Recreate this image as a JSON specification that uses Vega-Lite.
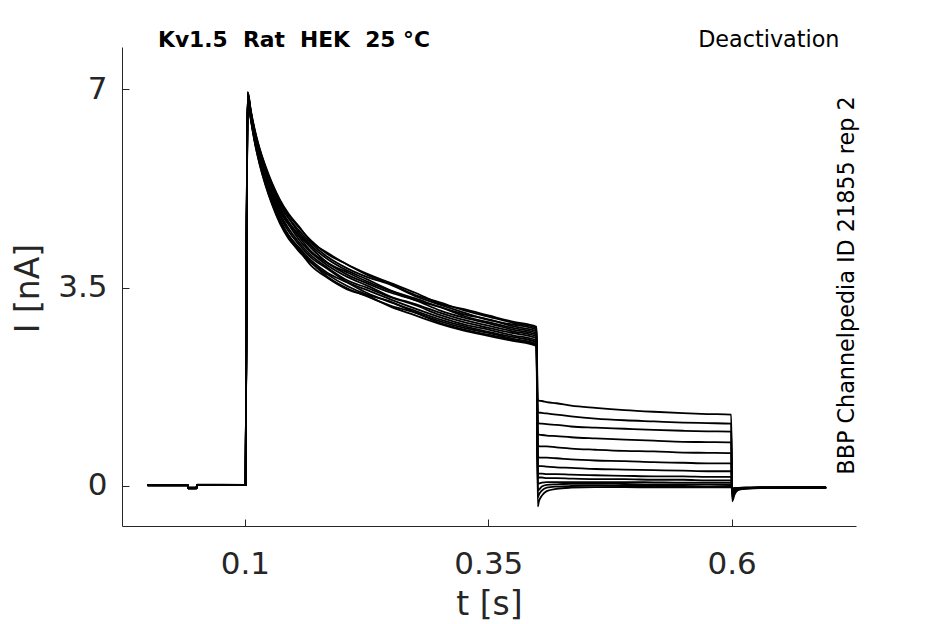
{
"$schema":"https://vega.github.io/schema/vega-lite/v6.json",
"width":734,"height":479,
"autosize":{"type":"none"},
"padding":{"left":122,"top":47,"right":89,"bottom":98},
"background":"white",
"config":{"view":{"stroke":null},"font":"DejaVu Sans","axis":{"grid":false,"domainColor":"#262626","tickColor":"#262626","labelColor":"#262626","titleColor":"#262626","labelFont":"DejaVu Sans","titleFont":"DejaVu Sans","titleFontWeight":"normal","domainWidth":1,"tickWidth":1}},
"title":{"text":"Kv1.5 \u00a0Rat \u00a0HEK \u00a025 °C","anchor":"start","frame":"group","dx":36,"dy":41,"offset":0,"baseline":"alphabetic","fontSize":21.8,"fontWeight":"bold","font":"DejaVu Sans","color":"black"},
"layer":[
{"data":{"values":[
{"s":1,"t":0,"i":0.015},{"s":1,"t":0.0412,"i":0.015},{"s":1,"t":0.0416,"i":-0.035},{"s":1,"t":0.0503,"i":-0.035},{"s":1,"t":0.0508,"i":0.02},{"s":1,"t":0.1007,"i":0.02},{"s":1,"t":0.1018,"i":4.6},
{"s":1,"t":0.1028,"i":6.95},{"s":1,"t":0.106,"i":6.62},{"s":1,"t":0.11,"i":6.28},{"s":1,"t":0.115,"i":5.95},{"s":1,"t":0.121,"i":5.63},{"s":1,"t":0.128,"i":5.32},{"s":1,"t":0.136,"i":5.03},{"s":1,"t":0.145,"i":4.78},{"s":1,"t":0.155,"i":4.57},{"s":1,"t":0.168,"i":4.33},{"s":1,"t":0.185,"i":4.09},{"s":1,"t":0.205,"i":3.91},{"s":1,"t":0.225,"i":3.73},{"s":1,"t":0.25,"i":3.56},{"s":1,"t":0.275,"i":3.37},{"s":1,"t":0.3,"i":3.24},{"s":1,"t":0.325,"i":3.1},{"s":1,"t":0.35,"i":2.99},{"s":1,"t":0.375,"i":2.88},{"s":1,"t":0.3995,"i":2.79},
{"s":1,"t":0.4008,"i":1.51},{"s":1,"t":0.405,"i":1.5},{"s":1,"t":0.41,"i":1.48},{"s":1,"t":0.42,"i":1.46},{"s":1,"t":0.435,"i":1.42},{"s":1,"t":0.46,"i":1.38},{"s":1,"t":0.49,"i":1.34},{"s":1,"t":0.52,"i":1.31},{"s":1,"t":0.55,"i":1.285},{"s":1,"t":0.575,"i":1.27},{"s":1,"t":0.5995,"i":1.26},
{"s":1,"t":0.6005,"i":-0.27},{"s":1,"t":0.603,"i":-0.15},{"s":1,"t":0.607,"i":-0.07},{"s":1,"t":0.615,"i":-0.045},{"s":1,"t":0.63,"i":-0.035},{"s":1,"t":0.66,"i":-0.03},{"s":1,"t":0.697,"i":-0.03},

{"s":2,"t":0,"i":0.01},{"s":2,"t":0.0412,"i":0.01},{"s":2,"t":0.0416,"i":-0.04},{"s":2,"t":0.0503,"i":-0.04},{"s":2,"t":0.0508,"i":0.015},{"s":2,"t":0.1007,"i":0.015},{"s":2,"t":0.1018,"i":4.4},
{"s":2,"t":0.1028,"i":6.89},{"s":2,"t":0.106,"i":6.53},{"s":2,"t":0.11,"i":6.16},{"s":2,"t":0.115,"i":5.79},{"s":2,"t":0.121,"i":5.45},{"s":2,"t":0.128,"i":5.11},{"s":2,"t":0.136,"i":4.8},{"s":2,"t":0.145,"i":4.54},{"s":2,"t":0.155,"i":4.31},{"s":2,"t":0.168,"i":4.07},{"s":2,"t":0.185,"i":3.85},{"s":2,"t":0.205,"i":3.63},{"s":2,"t":0.225,"i":3.5},{"s":2,"t":0.25,"i":3.33},{"s":2,"t":0.275,"i":3.19},{"s":2,"t":0.3,"i":3.02},{"s":2,"t":0.325,"i":2.89},{"s":2,"t":0.35,"i":2.79},{"s":2,"t":0.375,"i":2.7},{"s":2,"t":0.3995,"i":2.61},
{"s":2,"t":0.4008,"i":1.3},{"s":2,"t":0.405,"i":1.29},{"s":2,"t":0.41,"i":1.28},{"s":2,"t":0.42,"i":1.26},{"s":2,"t":0.435,"i":1.23},{"s":2,"t":0.46,"i":1.19},{"s":2,"t":0.49,"i":1.16},{"s":2,"t":0.52,"i":1.14},{"s":2,"t":0.55,"i":1.12},{"s":2,"t":0.575,"i":1.11},{"s":2,"t":0.5995,"i":1.1},
{"s":2,"t":0.6005,"i":-0.22},{"s":2,"t":0.603,"i":-0.12},{"s":2,"t":0.607,"i":-0.06},{"s":2,"t":0.615,"i":-0.04},{"s":2,"t":0.63,"i":-0.03},{"s":2,"t":0.66,"i":-0.03},{"s":2,"t":0.697,"i":-0.025},

{"s":3,"t":0,"i":0.02},{"s":3,"t":0.0412,"i":0.02},{"s":3,"t":0.0416,"i":-0.03},{"s":3,"t":0.0503,"i":-0.03},{"s":3,"t":0.0508,"i":0.025},{"s":3,"t":0.1007,"i":0.02},{"s":3,"t":0.1018,"i":4.7},
{"s":3,"t":0.1028,"i":6.93},{"s":3,"t":0.106,"i":6.59},{"s":3,"t":0.11,"i":6.24},{"s":3,"t":0.115,"i":5.89},{"s":3,"t":0.121,"i":5.57},{"s":3,"t":0.128,"i":5.25},{"s":3,"t":0.136,"i":4.95},{"s":3,"t":0.145,"i":4.72},{"s":3,"t":0.155,"i":4.48},{"s":3,"t":0.168,"i":4.24},{"s":3,"t":0.185,"i":4.0},{"s":3,"t":0.205,"i":3.8},{"s":3,"t":0.225,"i":3.65},{"s":3,"t":0.25,"i":3.45},{"s":3,"t":0.275,"i":3.31},{"s":3,"t":0.3,"i":3.16},{"s":3,"t":0.325,"i":3.03},{"s":3,"t":0.35,"i":2.94},{"s":3,"t":0.375,"i":2.82},{"s":3,"t":0.3995,"i":2.73},
{"s":3,"t":0.4008,"i":1.11},{"s":3,"t":0.405,"i":1.1},{"s":3,"t":0.41,"i":1.09},{"s":3,"t":0.42,"i":1.08},{"s":3,"t":0.435,"i":1.05},{"s":3,"t":0.46,"i":1.03},{"s":3,"t":0.49,"i":1.01},{"s":3,"t":0.52,"i":0.99},{"s":3,"t":0.55,"i":0.975},{"s":3,"t":0.575,"i":0.965},{"s":3,"t":0.5995,"i":0.96},
{"s":3,"t":0.6005,"i":-0.18},{"s":3,"t":0.603,"i":-0.1},{"s":3,"t":0.607,"i":-0.055},{"s":3,"t":0.615,"i":-0.04},{"s":3,"t":0.63,"i":-0.035},{"s":3,"t":0.66,"i":-0.03},{"s":3,"t":0.697,"i":-0.03},

{"s":4,"t":0,"i":0.01},{"s":4,"t":0.0412,"i":0.01},{"s":4,"t":0.0416,"i":-0.04},{"s":4,"t":0.0503,"i":-0.04},{"s":4,"t":0.0508,"i":0.015},{"s":4,"t":0.1007,"i":0.015},{"s":4,"t":0.1018,"i":4.3},
{"s":4,"t":0.1028,"i":6.86},{"s":4,"t":0.106,"i":6.48},{"s":4,"t":0.11,"i":6.08},{"s":4,"t":0.115,"i":5.69},{"s":4,"t":0.121,"i":5.33},{"s":4,"t":0.128,"i":4.98},{"s":4,"t":0.136,"i":4.65},{"s":4,"t":0.145,"i":4.38},{"s":4,"t":0.155,"i":4.15},{"s":4,"t":0.168,"i":3.94},{"s":4,"t":0.185,"i":3.69},{"s":4,"t":0.205,"i":3.49},{"s":4,"t":0.225,"i":3.35},{"s":4,"t":0.25,"i":3.18},{"s":4,"t":0.275,"i":3.06},{"s":4,"t":0.3,"i":2.88},{"s":4,"t":0.325,"i":2.76},{"s":4,"t":0.35,"i":2.67},{"s":4,"t":0.375,"i":2.58},{"s":4,"t":0.3995,"i":2.49},
{"s":4,"t":0.4008,"i":0.91},{"s":4,"t":0.405,"i":0.9},{"s":4,"t":0.41,"i":0.89},{"s":4,"t":0.42,"i":0.88},{"s":4,"t":0.435,"i":0.86},{"s":4,"t":0.46,"i":0.84},{"s":4,"t":0.49,"i":0.82},{"s":4,"t":0.52,"i":0.8},{"s":4,"t":0.55,"i":0.78},{"s":4,"t":0.575,"i":0.775},{"s":4,"t":0.5995,"i":0.77},
{"s":4,"t":0.6005,"i":-0.14},{"s":4,"t":0.603,"i":-0.09},{"s":4,"t":0.607,"i":-0.05},{"s":4,"t":0.615,"i":-0.04},{"s":4,"t":0.63,"i":-0.03},{"s":4,"t":0.66,"i":-0.03},{"s":4,"t":0.697,"i":-0.03},

{"s":5,"t":0,"i":0.015},{"s":5,"t":0.0412,"i":0.015},{"s":5,"t":0.0416,"i":-0.035},{"s":5,"t":0.0503,"i":-0.035},{"s":5,"t":0.0508,"i":0.02},{"s":5,"t":0.1007,"i":0.02},{"s":5,"t":0.1018,"i":4.5},
{"s":5,"t":0.1028,"i":6.91},{"s":5,"t":0.106,"i":6.57},{"s":5,"t":0.11,"i":6.2},{"s":5,"t":0.115,"i":5.85},{"s":5,"t":0.121,"i":5.51},{"s":5,"t":0.128,"i":5.19},{"s":5,"t":0.136,"i":4.88},{"s":5,"t":0.145,"i":4.62},{"s":5,"t":0.155,"i":4.41},{"s":5,"t":0.168,"i":4.14},{"s":5,"t":0.185,"i":3.93},{"s":5,"t":0.205,"i":3.73},{"s":5,"t":0.225,"i":3.58},{"s":5,"t":0.25,"i":3.41},{"s":5,"t":0.275,"i":3.28},{"s":5,"t":0.3,"i":3.1},{"s":5,"t":0.325,"i":2.97},{"s":5,"t":0.35,"i":2.87},{"s":5,"t":0.375,"i":2.76},{"s":5,"t":0.3995,"i":2.67},
{"s":5,"t":0.4008,"i":0.71},{"s":5,"t":0.405,"i":0.7},{"s":5,"t":0.41,"i":0.7},{"s":5,"t":0.42,"i":0.68},{"s":5,"t":0.435,"i":0.66},{"s":5,"t":0.46,"i":0.64},{"s":5,"t":0.49,"i":0.62},{"s":5,"t":0.52,"i":0.61},{"s":5,"t":0.55,"i":0.59},{"s":5,"t":0.575,"i":0.585},{"s":5,"t":0.5995,"i":0.58},
{"s":5,"t":0.6005,"i":-0.11},{"s":5,"t":0.603,"i":-0.07},{"s":5,"t":0.607,"i":-0.045},{"s":5,"t":0.615,"i":-0.035},{"s":5,"t":0.63,"i":-0.03},{"s":5,"t":0.66,"i":-0.03},{"s":5,"t":0.697,"i":-0.025},

{"s":6,"t":0,"i":0.01},{"s":6,"t":0.0412,"i":0.01},{"s":6,"t":0.0416,"i":-0.04},{"s":6,"t":0.0503,"i":-0.04},{"s":6,"t":0.0508,"i":0.015},{"s":6,"t":0.1007,"i":0.015},{"s":6,"t":0.1018,"i":4.4},
{"s":6,"t":0.1028,"i":6.87},{"s":6,"t":0.106,"i":6.5},{"s":6,"t":0.11,"i":6.11},{"s":6,"t":0.115,"i":5.74},{"s":6,"t":0.121,"i":5.38},{"s":6,"t":0.128,"i":5.04},{"s":6,"t":0.136,"i":4.71},{"s":6,"t":0.145,"i":4.42},{"s":6,"t":0.155,"i":4.22},{"s":6,"t":0.168,"i":3.98},{"s":6,"t":0.185,"i":3.76},{"s":6,"t":0.205,"i":3.59},{"s":6,"t":0.225,"i":3.41},{"s":6,"t":0.25,"i":3.24},{"s":6,"t":0.275,"i":3.09},{"s":6,"t":0.3,"i":2.94},{"s":6,"t":0.325,"i":2.82},{"s":6,"t":0.35,"i":2.72},{"s":6,"t":0.375,"i":2.63},{"s":6,"t":0.3995,"i":2.54},
{"s":6,"t":0.4008,"i":0.51},{"s":6,"t":0.405,"i":0.5},{"s":6,"t":0.41,"i":0.5},{"s":6,"t":0.42,"i":0.49},{"s":6,"t":0.435,"i":0.47},{"s":6,"t":0.46,"i":0.45},{"s":6,"t":0.49,"i":0.44},{"s":6,"t":0.52,"i":0.42},{"s":6,"t":0.55,"i":0.41},{"s":6,"t":0.575,"i":0.4},{"s":6,"t":0.5995,"i":0.4},
{"s":6,"t":0.6005,"i":-0.08},{"s":6,"t":0.603,"i":-0.06},{"s":6,"t":0.607,"i":-0.04},{"s":6,"t":0.615,"i":-0.035},{"s":6,"t":0.63,"i":-0.03},{"s":6,"t":0.66,"i":-0.03},{"s":6,"t":0.697,"i":-0.03},

{"s":7,"t":0,"i":0.02},{"s":7,"t":0.0412,"i":0.02},{"s":7,"t":0.0416,"i":-0.03},{"s":7,"t":0.0503,"i":-0.03},{"s":7,"t":0.0508,"i":0.02},{"s":7,"t":0.1007,"i":0.02},{"s":7,"t":0.1018,"i":4.7},
{"s":7,"t":0.1028,"i":6.95},{"s":7,"t":0.106,"i":6.63},{"s":7,"t":0.11,"i":6.29},{"s":7,"t":0.115,"i":5.96},{"s":7,"t":0.121,"i":5.65},{"s":7,"t":0.128,"i":5.34},{"s":7,"t":0.136,"i":5.05},{"s":7,"t":0.145,"i":4.8},{"s":7,"t":0.155,"i":4.59},{"s":7,"t":0.168,"i":4.31},{"s":7,"t":0.185,"i":4.11},{"s":7,"t":0.205,"i":3.91},{"s":7,"t":0.225,"i":3.75},{"s":7,"t":0.25,"i":3.58},{"s":7,"t":0.275,"i":3.41},{"s":7,"t":0.3,"i":3.22},{"s":7,"t":0.325,"i":3.12},{"s":7,"t":0.35,"i":3.01},{"s":7,"t":0.375,"i":2.9},{"s":7,"t":0.3995,"i":2.81},
{"s":7,"t":0.4008,"i":0.35},{"s":7,"t":0.405,"i":0.35},{"s":7,"t":0.41,"i":0.34},{"s":7,"t":0.42,"i":0.33},{"s":7,"t":0.435,"i":0.32},{"s":7,"t":0.46,"i":0.3},{"s":7,"t":0.49,"i":0.29},{"s":7,"t":0.52,"i":0.28},{"s":7,"t":0.55,"i":0.27},{"s":7,"t":0.575,"i":0.26},{"s":7,"t":0.5995,"i":0.26},
{"s":7,"t":0.6005,"i":-0.06},{"s":7,"t":0.603,"i":-0.05},{"s":7,"t":0.607,"i":-0.04},{"s":7,"t":0.615,"i":-0.035},{"s":7,"t":0.63,"i":-0.03},{"s":7,"t":0.66,"i":-0.03},{"s":7,"t":0.697,"i":-0.03},

{"s":8,"t":0,"i":0.015},{"s":8,"t":0.0412,"i":0.015},{"s":8,"t":0.0416,"i":-0.035},{"s":8,"t":0.0503,"i":-0.035},{"s":8,"t":0.0508,"i":0.02},{"s":8,"t":0.1007,"i":0.02},{"s":8,"t":0.1018,"i":4.4},
{"s":8,"t":0.1028,"i":6.88},{"s":8,"t":0.106,"i":6.52},{"s":8,"t":0.11,"i":6.14},{"s":8,"t":0.115,"i":5.76},{"s":8,"t":0.121,"i":5.41},{"s":8,"t":0.128,"i":5.07},{"s":8,"t":0.136,"i":4.76},{"s":8,"t":0.145,"i":4.49},{"s":8,"t":0.155,"i":4.27},{"s":8,"t":0.168,"i":4.03},{"s":8,"t":0.185,"i":3.83},{"s":8,"t":0.205,"i":3.6},{"s":8,"t":0.225,"i":3.46},{"s":8,"t":0.25,"i":3.29},{"s":8,"t":0.275,"i":3.13},{"s":8,"t":0.3,"i":2.98},{"s":8,"t":0.325,"i":2.85},{"s":8,"t":0.35,"i":2.76},{"s":8,"t":0.375,"i":2.66},{"s":8,"t":0.3995,"i":2.57},
{"s":8,"t":0.4008,"i":0.22},{"s":8,"t":0.405,"i":0.22},{"s":8,"t":0.41,"i":0.21},{"s":8,"t":0.42,"i":0.21},{"s":8,"t":0.435,"i":0.2},{"s":8,"t":0.46,"i":0.19},{"s":8,"t":0.49,"i":0.18},{"s":8,"t":0.52,"i":0.17},{"s":8,"t":0.55,"i":0.17},{"s":8,"t":0.575,"i":0.16},{"s":8,"t":0.5995,"i":0.16},
{"s":8,"t":0.6005,"i":-0.05},{"s":8,"t":0.603,"i":-0.045},{"s":8,"t":0.607,"i":-0.04},{"s":8,"t":0.615,"i":-0.035},{"s":8,"t":0.63,"i":-0.03},{"s":8,"t":0.66,"i":-0.03},{"s":8,"t":0.697,"i":-0.03},

{"s":9,"t":0,"i":0.01},{"s":9,"t":0.0412,"i":0.01},{"s":9,"t":0.0416,"i":-0.04},{"s":9,"t":0.0503,"i":-0.04},{"s":9,"t":0.0508,"i":0.015},{"s":9,"t":0.1007,"i":0.015},{"s":9,"t":0.1018,"i":4.6},
{"s":9,"t":0.1028,"i":6.94},{"s":9,"t":0.106,"i":6.61},{"s":9,"t":0.11,"i":6.26},{"s":9,"t":0.115,"i":5.92},{"s":9,"t":0.121,"i":5.6},{"s":9,"t":0.128,"i":5.28},{"s":9,"t":0.136,"i":4.99},{"s":9,"t":0.145,"i":4.73},{"s":9,"t":0.155,"i":4.52},{"s":9,"t":0.168,"i":4.28},{"s":9,"t":0.185,"i":4.04},{"s":9,"t":0.205,"i":3.84},{"s":9,"t":0.225,"i":3.69},{"s":9,"t":0.25,"i":3.55},{"s":9,"t":0.275,"i":3.35},{"s":9,"t":0.3,"i":3.2},{"s":9,"t":0.325,"i":3.06},{"s":9,"t":0.35,"i":2.93},{"s":9,"t":0.375,"i":2.85},{"s":9,"t":0.3995,"i":2.76},
{"s":9,"t":0.4008,"i":0.15},{"s":9,"t":0.405,"i":0.15},{"s":9,"t":0.41,"i":0.14},{"s":9,"t":0.42,"i":0.14},{"s":9,"t":0.435,"i":0.13},{"s":9,"t":0.46,"i":0.12},{"s":9,"t":0.49,"i":0.12},{"s":9,"t":0.52,"i":0.11},{"s":9,"t":0.55,"i":0.11},{"s":9,"t":0.575,"i":0.1},{"s":9,"t":0.5995,"i":0.1},
{"s":9,"t":0.6005,"i":-0.05},{"s":9,"t":0.603,"i":-0.045},{"s":9,"t":0.607,"i":-0.04},{"s":9,"t":0.615,"i":-0.035},{"s":9,"t":0.63,"i":-0.03},{"s":9,"t":0.66,"i":-0.03},{"s":9,"t":0.697,"i":-0.03},

{"s":10,"t":0,"i":0.02},{"s":10,"t":0.0412,"i":0.02},{"s":10,"t":0.0416,"i":-0.03},{"s":10,"t":0.0503,"i":-0.03},{"s":10,"t":0.0508,"i":0.02},{"s":10,"t":0.1007,"i":0.02},{"s":10,"t":0.1018,"i":4.5},
{"s":10,"t":0.1028,"i":6.9},{"s":10,"t":0.106,"i":6.55},{"s":10,"t":0.11,"i":6.18},{"s":10,"t":0.115,"i":5.82},{"s":10,"t":0.121,"i":5.48},{"s":10,"t":0.128,"i":5.15},{"s":10,"t":0.136,"i":4.84},{"s":10,"t":0.145,"i":4.61},{"s":10,"t":0.155,"i":4.36},{"s":10,"t":0.168,"i":4.12},{"s":10,"t":0.185,"i":3.89},{"s":10,"t":0.205,"i":3.69},{"s":10,"t":0.225,"i":3.54},{"s":10,"t":0.25,"i":3.34},{"s":10,"t":0.275,"i":3.21},{"s":10,"t":0.3,"i":3.06},{"s":10,"t":0.325,"i":2.93},{"s":10,"t":0.35,"i":2.83},{"s":10,"t":0.375,"i":2.73},{"s":10,"t":0.3995,"i":2.64},
{"s":10,"t":0.4008,"i":0.04},{"s":10,"t":0.405,"i":0.06},{"s":10,"t":0.41,"i":0.07},{"s":10,"t":0.42,"i":0.07},{"s":10,"t":0.435,"i":0.07},{"s":10,"t":0.46,"i":0.07},{"s":10,"t":0.49,"i":0.07},{"s":10,"t":0.52,"i":0.065},{"s":10,"t":0.55,"i":0.06},{"s":10,"t":0.575,"i":0.06},{"s":10,"t":0.5995,"i":0.06},
{"s":10,"t":0.6005,"i":-0.05},{"s":10,"t":0.603,"i":-0.04},{"s":10,"t":0.607,"i":-0.035},{"s":10,"t":0.615,"i":-0.03},{"s":10,"t":0.63,"i":-0.03},{"s":10,"t":0.66,"i":-0.025},{"s":10,"t":0.697,"i":-0.025},

{"s":11,"t":0,"i":0.015},{"s":11,"t":0.0412,"i":0.015},{"s":11,"t":0.0416,"i":-0.035},{"s":11,"t":0.0503,"i":-0.035},{"s":11,"t":0.0508,"i":0.015},{"s":11,"t":0.1007,"i":0.015},{"s":11,"t":0.1018,"i":4.3},
{"s":11,"t":0.1028,"i":6.85},{"s":11,"t":0.106,"i":6.47},{"s":11,"t":0.11,"i":6.07},{"s":11,"t":0.115,"i":5.68},{"s":11,"t":0.121,"i":5.31},{"s":11,"t":0.128,"i":4.96},{"s":11,"t":0.136,"i":4.63},{"s":11,"t":0.145,"i":4.36},{"s":11,"t":0.155,"i":4.17},{"s":11,"t":0.168,"i":3.89},{"s":11,"t":0.185,"i":3.67},{"s":11,"t":0.205,"i":3.47},{"s":11,"t":0.225,"i":3.36},{"s":11,"t":0.25,"i":3.16},{"s":11,"t":0.275,"i":3.01},{"s":11,"t":0.3,"i":2.86},{"s":11,"t":0.325,"i":2.74},{"s":11,"t":0.35,"i":2.65},{"s":11,"t":0.375,"i":2.56},{"s":11,"t":0.3995,"i":2.47},
{"s":11,"t":0.4008,"i":-0.08},{"s":11,"t":0.405,"i":-0.01},{"s":11,"t":0.41,"i":0.02},{"s":11,"t":0.42,"i":0.03},{"s":11,"t":0.435,"i":0.04},{"s":11,"t":0.46,"i":0.04},{"s":11,"t":0.49,"i":0.035},{"s":11,"t":0.52,"i":0.03},{"s":11,"t":0.55,"i":0.03},{"s":11,"t":0.575,"i":0.03},{"s":11,"t":0.5995,"i":0.03},
{"s":11,"t":0.6005,"i":-0.05},{"s":11,"t":0.603,"i":-0.04},{"s":11,"t":0.607,"i":-0.035},{"s":11,"t":0.615,"i":-0.03},{"s":11,"t":0.63,"i":-0.03},{"s":11,"t":0.66,"i":-0.03},{"s":11,"t":0.697,"i":-0.03},

{"s":12,"t":0,"i":0.01},{"s":12,"t":0.0412,"i":0.01},{"s":12,"t":0.0416,"i":-0.04},{"s":12,"t":0.0503,"i":-0.04},{"s":12,"t":0.0508,"i":0.02},{"s":12,"t":0.1007,"i":0.02},{"s":12,"t":0.1018,"i":4.6},
{"s":12,"t":0.1028,"i":6.92},{"s":12,"t":0.106,"i":6.58},{"s":12,"t":0.11,"i":6.22},{"s":12,"t":0.115,"i":5.87},{"s":12,"t":0.121,"i":5.54},{"s":12,"t":0.128,"i":5.22},{"s":12,"t":0.136,"i":4.91},{"s":12,"t":0.145,"i":4.66},{"s":12,"t":0.155,"i":4.44},{"s":12,"t":0.168,"i":4.2},{"s":12,"t":0.185,"i":3.94},{"s":12,"t":0.205,"i":3.77},{"s":12,"t":0.225,"i":3.61},{"s":12,"t":0.25,"i":3.44},{"s":12,"t":0.275,"i":3.28},{"s":12,"t":0.3,"i":3.16},{"s":12,"t":0.325,"i":3.0},{"s":12,"t":0.35,"i":2.89},{"s":12,"t":0.375,"i":2.79},{"s":12,"t":0.3995,"i":2.7},
{"s":12,"t":0.4008,"i":-0.2},{"s":12,"t":0.402,"i":-0.15},{"s":12,"t":0.405,"i":-0.08},{"s":12,"t":0.41,"i":-0.03},{"s":12,"t":0.42,"i":-0.01},{"s":12,"t":0.435,"i":0.0},{"s":12,"t":0.46,"i":0.005},{"s":12,"t":0.49,"i":0.0},{"s":12,"t":0.52,"i":0.0},{"s":12,"t":0.55,"i":0.0},{"s":12,"t":0.575,"i":-0.005},{"s":12,"t":0.5995,"i":0.0},
{"s":12,"t":0.6005,"i":-0.05},{"s":12,"t":0.603,"i":-0.04},{"s":12,"t":0.607,"i":-0.035},{"s":12,"t":0.615,"i":-0.03},{"s":12,"t":0.63,"i":-0.03},{"s":12,"t":0.66,"i":-0.03},{"s":12,"t":0.697,"i":-0.035},

{"s":13,"t":0,"i":0.015},{"s":13,"t":0.0412,"i":0.015},{"s":13,"t":0.0416,"i":-0.035},{"s":13,"t":0.0503,"i":-0.035},{"s":13,"t":0.0508,"i":0.02},{"s":13,"t":0.1007,"i":0.02},{"s":13,"t":0.1018,"i":4.4},
{"s":13,"t":0.1028,"i":6.86},{"s":13,"t":0.106,"i":6.49},{"s":13,"t":0.11,"i":6.1},{"s":13,"t":0.115,"i":5.72},{"s":13,"t":0.121,"i":5.35},{"s":13,"t":0.128,"i":5.01},{"s":13,"t":0.136,"i":4.68},{"s":13,"t":0.145,"i":4.42},{"s":13,"t":0.155,"i":4.19},{"s":13,"t":0.168,"i":3.95},{"s":13,"t":0.185,"i":3.73},{"s":13,"t":0.205,"i":3.53},{"s":13,"t":0.225,"i":3.38},{"s":13,"t":0.25,"i":3.25},{"s":13,"t":0.275,"i":3.06},{"s":13,"t":0.3,"i":2.91},{"s":13,"t":0.325,"i":2.79},{"s":13,"t":0.35,"i":2.7},{"s":13,"t":0.375,"i":2.6},{"s":13,"t":0.3995,"i":2.51},
{"s":13,"t":0.4008,"i":-0.36},{"s":13,"t":0.402,"i":-0.27},{"s":13,"t":0.405,"i":-0.17},{"s":13,"t":0.41,"i":-0.09},{"s":13,"t":0.42,"i":-0.05},{"s":13,"t":0.435,"i":-0.03},{"s":13,"t":0.46,"i":-0.02},{"s":13,"t":0.49,"i":-0.02},{"s":13,"t":0.52,"i":-0.025},{"s":13,"t":0.55,"i":-0.025},{"s":13,"t":0.575,"i":-0.025},{"s":13,"t":0.5995,"i":-0.025},
{"s":13,"t":0.6005,"i":-0.05},{"s":13,"t":0.603,"i":-0.045},{"s":13,"t":0.607,"i":-0.04},{"s":13,"t":0.615,"i":-0.035},{"s":13,"t":0.63,"i":-0.03},{"s":13,"t":0.66,"i":-0.03},{"s":13,"t":0.697,"i":-0.03}
]},
"mark":{"type":"line","color":"black","strokeWidth":1.8,"interpolate":"monotone"},
"encoding":{
"x":{"field":"t","type":"quantitative","scale":{"domain":[-0.0263,0.7277],"nice":false,"zero":false},
"axis":{"orient":"bottom","values":[0.1,0.35,0.6],"labelExpr":"'' + datum.value","tickSize":-7,"labelFontSize":31,"labelPadding":30,"labelFlush":false,"title":"t [s]","titleFontSize":33,"titleBaseline":"alphabetic","titleY":88}},
"y":{"field":"i","type":"quantitative","scale":{"domain":[-0.706,7.747],"nice":false,"zero":false},
"axis":{"orient":"left","values":[0,3.5,7],"labelExpr":"'' + datum.value","tickSize":-7,"labelFontSize":31,"labelPadding":22,"title":"I [nA]","titleFontSize":33,"titleAngle":-90,"titleAlign":"center","titleBaseline":"alphabetic","titleX":-84,"titleY":241}},
"detail":{"field":"s","type":"nominal"}
}},
{"data":{"values":[{"t":0.35,"i":3.5}]},
"mark":{"type":"point","opacity":0},
"encoding":{
"x":{"field":"t","type":"quantitative","scale":{"domain":[-0.0263,0.7277],"nice":false,"zero":false},
"axis":{"orient":"top","domain":false,"ticks":false,"labels":false,"title":"Deactivation","titleFontSize":22.3,"titleColor":"black","titleAlign":"right","titleAnchor":"end","titleBaseline":"alphabetic","titleX":717,"titleY":-1}},
"y":{"field":"i","type":"quantitative","scale":{"domain":[-0.706,7.747],"nice":false,"zero":false},
"axis":{"orient":"right","domain":false,"ticks":false,"labels":false,"title":"BBP Channelpedia ID 21855 rep 2","titleFontSize":22.3,"titleColor":"black","titleAngle":-90,"titleAlign":"center","titleBaseline":"alphabetic","titleX":-3,"titleY":238}}
}}
],
"resolve":{"axis":{"x":"independent","y":"independent"}}
}
